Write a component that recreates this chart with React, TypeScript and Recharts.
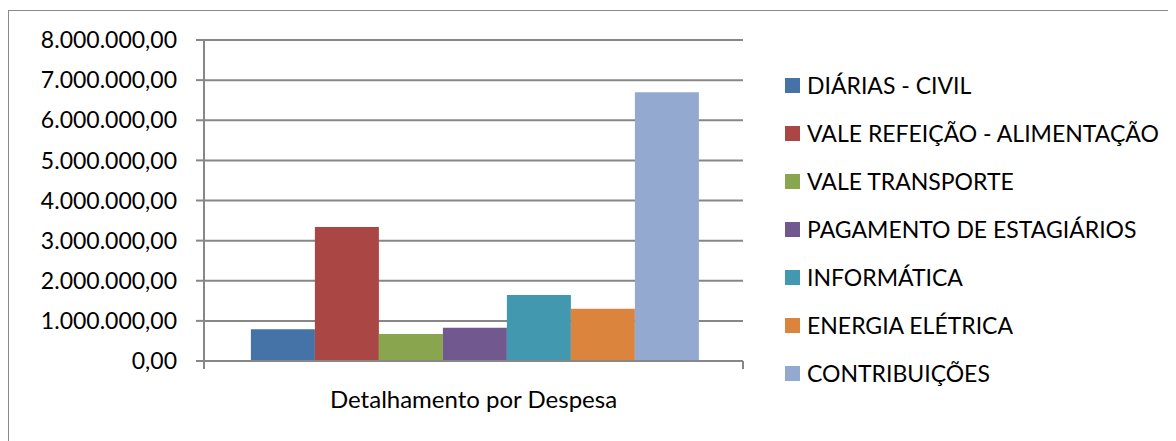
import { BarChart, Bar, XAxis, YAxis, CartesianGrid, Legend } from 'recharts';

const category = 'Detalhamento por Despesa';
const seriesNames = [
  'DIÁRIAS - CIVIL',
  'VALE REFEIÇÃO - ALIMENTAÇÃO',
  'VALE TRANSPORTE',
  'PAGAMENTO DE ESTAGIÁRIOS',
  'INFORMÁTICA',
  'ENERGIA ELÉTRICA',
  'CONTRIBUIÇÕES',
];
const seriesValues = [790000, 3340000, 670000, 830000, 1645000, 1300000, 6700000];
const seriesColors = ['#4572A7', '#AA4643', '#89A54E', '#71588F', '#4198AF', '#DB843D', '#93A9CF'];
const yTicks = [0, 1000000, 2000000, 3000000, 4000000, 5000000, 6000000, 7000000, 8000000];

const data = [
  seriesValues.reduce<Record<string, string | number>>(
    (row, v, i) => ({ ...row, [`s${i}`]: v }),
    { name: category }
  ),
];

const FONT = 'Lato, "Open Sans", sans-serif';
const AXIS = '#878787';
const PLOT_W = 539;
const LEGEND_W = 390;

const fmt = (v: number) =>
  v.toLocaleString('pt-BR', { minimumFractionDigits: 2, maximumFractionDigits: 2 });

function CategoryTick(props: any) {
  const { x, y, payload } = props;
  return (
    <g>
      <line x1={x - PLOT_W / 2} y1={y - 8} x2={x - PLOT_W / 2} y2={y} stroke={AXIS} strokeWidth={2} />
      <line x1={x + PLOT_W / 2} y1={y - 8} x2={x + PLOT_W / 2} y2={y} stroke={AXIS} strokeWidth={2} />
      <text x={x} y={y + 39} textAnchor="middle" fill="#000" fontFamily={FONT} fontSize={24}>
        {payload.value}
      </text>
    </g>
  );
}

function LegendList(props: any) {
  const items = [...(props.payload || [])].sort(
    (a: any, b: any) => seriesNames.indexOf(a.value) - seriesNames.indexOf(b.value)
  );
  return (
    <ul style={{ listStyle: 'none', margin: 0, padding: 0 }}>
      {items.map((it: any) => (
        <li key={it.value} style={{ height: 48, display: 'flex', alignItems: 'center' }}>
          <span style={{ width: 15, height: 15, background: it.color, display: 'inline-block', marginRight: 7 }} />
          <span style={{ fontFamily: FONT, fontSize: 23, color: '#000', whiteSpace: 'nowrap' }}>{it.value}</span>
        </li>
      ))}
    </ul>
  );
}

export default function App() {
  return (
    <div style={{ width: 1168, height: 433, position: 'relative' }}>
      <div
        style={{
          position: 'absolute',
          left: 0,
          top: 2,
          width: 1200,
          height: 500,
          borderLeft: '1px solid #8a8a8a',
          borderTop: '1px solid #8a8a8a',
        }}
      />
      <BarChart
        width={1168}
        height={433}
        data={data}
        margin={{ top: 32, right: 433 - LEGEND_W, bottom: 30, left: 0 }}
        barCategoryGap="8.7%"
        barGap={0}
      >
        <CartesianGrid vertical={false} stroke={AXIS} strokeWidth={2} />
        <XAxis
          dataKey="name"
          axisLine={{ stroke: AXIS, strokeWidth: 2 }}
          tickLine={false}
          tick={<CategoryTick />}
          height={50}
          interval={0}
        />
        <YAxis
          width={196}
          domain={[0, 8000000]}
          ticks={yTicks}
          tickFormatter={fmt}
          axisLine={{ stroke: AXIS, strokeWidth: 2 }}
          tickLine={{ stroke: AXIS, strokeWidth: 2 }}
          tickSize={8}
          tickMargin={19}
          tick={{ fill: '#000', fontFamily: FONT, fontSize: 23 }}
          interval={0}
        />
        <Legend
          layout="vertical"
          align="right"
          verticalAlign="top"
          content={<LegendList />}
          wrapperStyle={{ left: 777, top: 53, width: LEGEND_W }}
        />
        {seriesNames.map((n, i) => (
          <Bar key={n} dataKey={`s${i}`} name={n} fill={seriesColors[i]} isAnimationActive={false} />
        ))}
      </BarChart>
    </div>
  );
}
